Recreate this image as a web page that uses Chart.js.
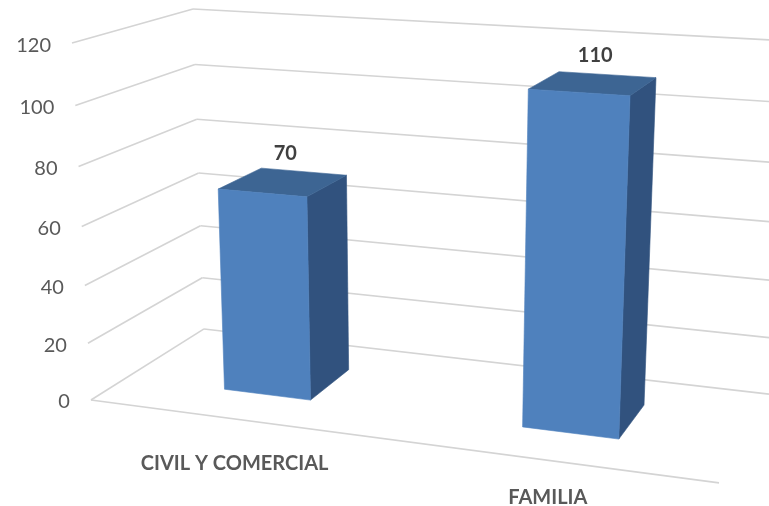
<!DOCTYPE html>
<html>
<head>
<meta charset="utf-8">
<script src="https://cdn.jsdelivr.net/npm/chart.js@4.4.0/dist/chart.umd.min.js"></script>
<style>
  body { margin: 0; background: #fff; }
  #wrap { width: 769px; height: 506px; position: relative; }
</style>
</head>
<body>
<div id="wrap"><canvas id="chart"></canvas></div>
<script>
// Data
const categories = ["CIVIL Y COMERCIAL", "FAMILIA"];
const values = [70, 110];
const yTicks = [0, 20, 40, 60, 80, 100, 120];

// Camera: where the corners of the plot box land on screen (x, y, z in 0..1, z = 1 is the back wall)
// the back right edge runs off the picture, so its top corner sits past the right border
const boxCorners = [
  [0, 0, 1, 204, 329],
  [0, 1, 1, 193, 9],
  [1, 0, 1, 769, 394],
  [1, 1, 1, 789, 41],
  [0, 0, 0, 91, 400],
  [0, 1, 0, 72, 43],
  [1, 0, 0, 719, 483],
];
const barDepth = [0.3, 0.7];

const colors = {
  grid: "#d4d4d4",
  front: "#4f81bd",
  top: "#3d6593",
  side: "#31527e",
  tick: "#595959",
  value: "#404040",
  category: "#595959",
};

// ===== Projection (least squares fit of a 3x4 camera matrix) =====

function fitCamera(pts) {
  const rows = [], rhs = [];
  pts.forEach(([X, Y, Z, u, v]) => {
    u /= 1000; v /= 1000;
    rows.push([X, Y, Z, 1, 0, 0, 0, 0, -u * X, -u * Y, -u * Z]); rhs.push(u);
    rows.push([0, 0, 0, 0, X, Y, Z, 1, -v * X, -v * Y, -v * Z]); rhs.push(v);
  });
  const n = 11;
  const M = [];
  for (let i = 0; i < n; i++) {
    M.push(new Array(n + 1).fill(0));
    for (let k = 0; k < rows.length; k++) {
      for (let j = 0; j < n; j++) M[i][j] += rows[k][i] * rows[k][j];
      M[i][n] += rows[k][i] * rhs[k];
    }
  }
  for (let c = 0; c < n; c++) {
    let piv = c;
    for (let r = c + 1; r < n; r++) if (Math.abs(M[r][c]) > Math.abs(M[piv][c])) piv = r;
    [M[c], M[piv]] = [M[piv], M[c]];
    for (let r = 0; r < n; r++) {
      if (r === c) continue;
      const f = M[r][c] / M[c][c];
      for (let j = c; j <= n; j++) M[r][j] -= f * M[c][j];
    }
  }
  return M.map((row, i) => row[n] / row[i]);
}

const cam = fitCamera(boxCorners);

function project(X, Y, Z) {
  const w = cam[8] * X + cam[9] * Y + cam[10] * Z + 1;
  return {
    x: 1000 * (cam[0] * X + cam[1] * Y + cam[2] * Z + cam[3]) / w,
    y: 1000 * (cam[4] * X + cam[5] * Y + cam[6] * Z + cam[7]) / w,
  };
}

function line(ctx, a, b) {
  ctx.beginPath();
  ctx.moveTo(a.x, a.y);
  ctx.lineTo(b.x, b.y);
  ctx.stroke();
}

function face(ctx, pts, color) {
  ctx.beginPath();
  pts.forEach((p, i) => (i ? ctx.lineTo(p.x, p.y) : ctx.moveTo(p.x, p.y)));
  ctx.closePath();
  ctx.fillStyle = color;
  ctx.fill();
  ctx.strokeStyle = color;
  ctx.lineWidth = 0.6;
  ctx.stroke();
}

// ===== 3D plugin =====

const box3d = {
  id: "box3d",
  beforeDatasetsDraw(chart) {
    const ctx = chart.ctx;
    const ys = chart.scales.y;
    const ny = (v) => (ys.bottom - ys.getPixelForValue(v)) / (ys.bottom - ys.top);

    ctx.save();
    ctx.strokeStyle = colors.grid;
    ctx.lineWidth = 1.6;
    ys.ticks.forEach((t) => {
      const h = ny(t.value);
      line(ctx, project(0, h, 0), project(0, h, 1));
      line(ctx, project(0, h, 1), project(1, h, 1));
    });
    line(ctx, project(0, 0, 0), project(1, 0, 0));

    ctx.fillStyle = colors.tick;
    ctx.font = "20px Lato";
    ctx.textAlign = "right";
    ctx.textBaseline = "middle";
    yTicks.forEach((v) => {
      const p = project(0, ny(v), 0);
      ctx.fillText(String(v), p.x - 21, p.y + 2);
    });
    ctx.restore();
  },
  afterDatasetsDraw(chart) {
    const ctx = chart.ctx;
    const ca = chart.chartArea;
    const ys = chart.scales.y;
    const nx = (px) => (px - ca.left) / (ca.right - ca.left);
    const ny = (py) => (ys.bottom - py) / (ys.bottom - ys.top);
    const [z0, z1] = barDepth;

    ctx.save();
    chart.getDatasetMeta(0).data.forEach((el, i) => {
      const x0 = nx(el.x - el.width / 2);
      const x1 = nx(el.x + el.width / 2);
      const h = ny(el.y);
      const b = ny(el.base);

      face(ctx, [project(x1, b, z0), project(x1, b, z1), project(x1, h, z1), project(x1, h, z0)], colors.side);
      face(ctx, [project(x0, h, z0), project(x1, h, z0), project(x1, h, z1), project(x0, h, z1)], colors.top);
      face(ctx, [project(x0, b, z0), project(x1, b, z0), project(x1, h, z0), project(x0, h, z0)], colors.front);

      const top = project((x0 + x1) / 2, h, (z0 + z1) / 2);
      ctx.fillStyle = colors.value;
      ctx.font = "bold 20px Lato";
      ctx.textAlign = "center";
      ctx.textBaseline = "middle";
      ctx.fillText(String(values[i]), top.x + 2, top.y - 28);

      // category names hang under the front edge, a little flatter than it
      const foot = project((x0 + x1) / 2, 0, 0);
      ctx.fillStyle = colors.category;
      ctx.font = "bold 20px Lato";
      ctx.fillText(categories[i], foot.x, foot.y + 41 - 0.025 * (foot.x - 390));
    });
    ctx.restore();
  },
};

new Chart(document.getElementById("chart"), {
  type: "bar",
  data: {
    labels: categories,
    datasets: [
      {
        data: values,
        backgroundColor: "rgba(0,0,0,0)",
        borderWidth: 0,
        barPercentage: 0.3,
        categoryPercentage: 1,
      },
    ],
  },
  options: {
    responsive: true,
    maintainAspectRatio: false,
    animation: false,
    layout: { padding: 0 },
    plugins: { legend: { display: false }, tooltip: { enabled: false } },
    scales: {
      x: { display: false },
      y: { display: false, min: 0, max: 120, ticks: { stepSize: 20 } },
    },
  },
  plugins: [box3d],
});
</script>
</body>
</html>
